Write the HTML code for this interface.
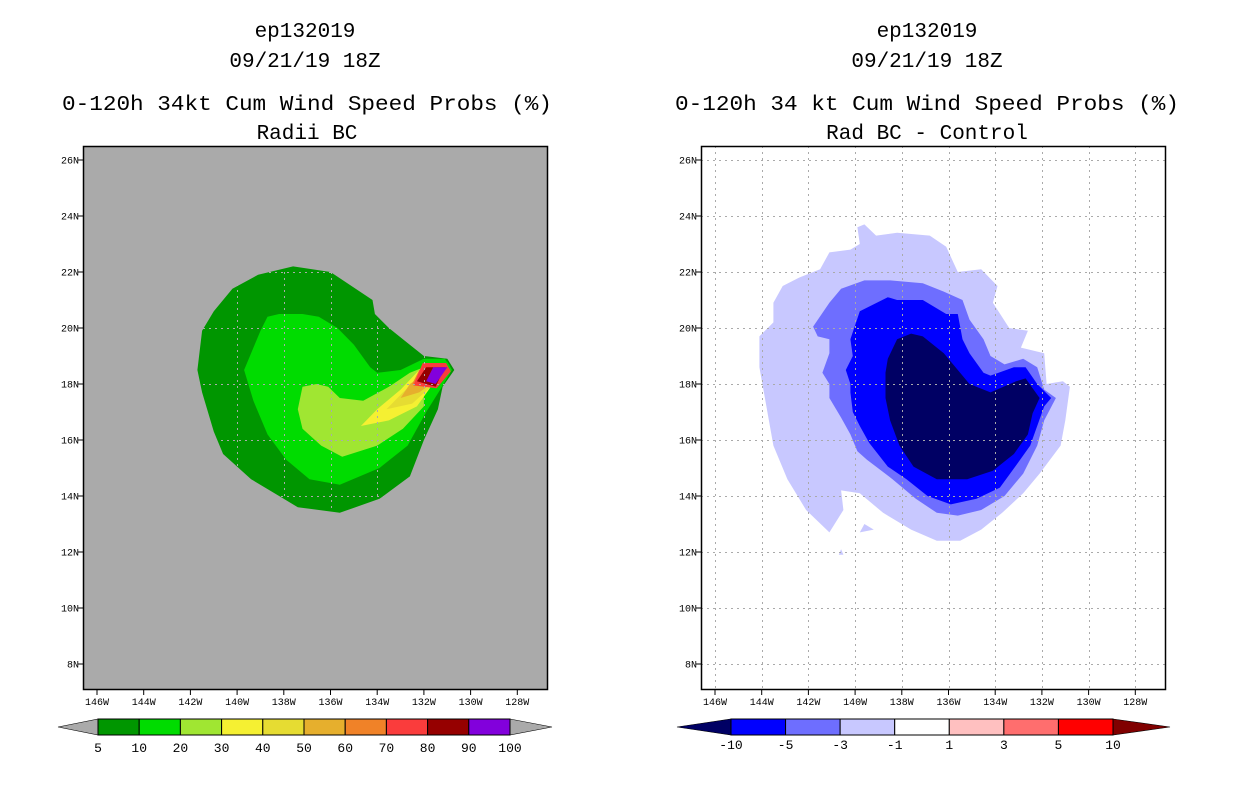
<!DOCTYPE html>
<html><head><meta charset="utf-8"><style>
body{margin:0;background:#fff;}
svg text{font-family:"Liberation Mono","DejaVu Sans Mono",monospace;}
</style></head><body>
<svg id="chart" width="1236" height="800" viewBox="0 0 1236 800" xmlns="http://www.w3.org/2000/svg">
<g font-size="21" text-anchor="middle" fill="#000">
<text x="305" y="37">ep132019</text>
<text x="305" y="67">09/21/19 18Z</text>
<text x="307" y="110" textLength="490" lengthAdjust="spacingAndGlyphs">0-120h 34kt Cum Wind Speed Probs (%)</text>
<text x="307" y="139">Radii BC</text>
</g>
<g font-size="21" text-anchor="middle" fill="#000">
<text x="927" y="37">ep132019</text>
<text x="927" y="67">09/21/19 18Z</text>
<text x="927" y="110" textLength="504" lengthAdjust="spacingAndGlyphs">0-120h 34 kt Cum Wind Speed Probs (%)</text>
<text x="927" y="139">Rad BC - Control</text>
</g>
<defs>
<clipPath id="clipL"><rect x="83" y="146" width="465" height="544"/></clipPath>
<clipPath id="clipR"><rect x="701" y="146" width="465" height="544"/></clipPath>
</defs>
<g id="left"></g>
<g id="right"></g>
<g id="cbars"></g>
</svg>
<script>
const lonTicks=[146,144,142,140,138,136,134,132,130,128];
const latTicks=[26,24,22,20,18,16,14,12,10,8];
const leftLevels=[5,10,20,30,40,50,60,70,80,90];
const leftColors=["#009600","#00dc00","#a0e632","#f5f032","#e6dc32","#e6af2d","#f08228","#fa3c3c","#960000","#8200dc"];
const leftP5=[[137.6,22.2],[136.0,22.0],[134.2,21.0],[134.1,20.5],[133.5,20.0],[132.9,19.6],[132.0,19.0],[131.0,18.9],[130.7,18.5],[131.2,17.9],[131.4,17.1],[132.0,16.0],[132.6,14.7],[133.9,13.9],[135.6,13.4],[137.4,13.6],[138.2,14.0],[139.4,14.6],[140.6,15.5],[141.0,16.3],[141.5,17.7],[141.7,18.5],[141.5,19.9],[141.0,20.6],[140.2,21.4],[139.1,21.9]];
const leftP10=[[138.2,20.5],[137.2,20.5],[136.5,20.4],[135.7,20.0],[135.0,19.4],[134.3,18.6],[134.0,18.4],[133.0,18.5],[132.0,18.9],[131.1,18.9],[130.8,18.5],[131.3,17.8],[131.9,17.0],[132.7,15.8],[133.9,15.0],[135.6,14.4],[136.9,14.6],[137.9,15.3],[138.7,16.2],[139.3,17.4],[139.7,18.5],[139.4,19.1],[139.0,19.9],[138.7,20.4]];
const leftP20=[[137.2,17.9],[136.6,18.0],[136.1,17.9],[135.6,17.5],[134.6,17.4],[133.5,17.9],[132.6,18.4],[132.0,18.6],[132.0,17.2],[132.9,16.4],[134.0,15.8],[135.5,15.4],[136.4,15.8],[137.2,16.4],[137.4,17.1]];
const leftP30=[[134.7,16.5],[134.0,17.1],[133.0,17.8],[132.2,18.5],[131.7,17.9],[132.3,17.2],[133.5,16.7]];
const leftP40=[[133.6,17.1],[132.9,17.7],[132.0,18.4],[131.7,17.9],[132.5,17.3]];
const leftP50=[[133.0,17.5],[132.6,18.0],[131.9,18.4],[131.7,18.0],[132.2,17.7]];
const leftP60=[[132.5,18.0],[132.2,18.5],[131.7,18.5],[132.0,17.9]];
const leftP70=[[132.4,18.0],[132.0,18.8],[131.0,18.8],[130.8,18.5],[131.4,17.9]];
const leftP80=[[132.3,18.1],[131.9,18.6],[131.1,18.6],[131.5,17.9]];
const leftP90=[[131.9,18.1],[131.6,18.6],[131.0,18.6],[131.5,18.0]];
const rightLevels=[-10,-5,-3,-1,1,3,5,10];
const rightColors=["#000064","#0000ff","#6e6eff","#c8c8ff","#ffffff","#ffc0c0","#ff6e6e","#ff0000","#800000"];
const rightM1=[[139.9,23.6],[139.6,23.7],[139.1,23.3],[138.2,23.4],[136.8,23.3],[136.1,22.9],[135.6,22.0],[134.6,22.1],[133.9,21.5],[134.1,20.9],[133.4,20.0],[132.6,19.9],[132.9,19.3],[131.9,19.1],[131.8,18.0],[131.1,18.1],[130.8,17.9],[131.0,16.7],[131.2,15.8],[132.1,14.8],[132.8,14.1],[133.7,13.4],[134.6,12.8],[135.5,12.4],[136.5,12.4],[137.6,12.8],[138.8,13.4],[139.8,14.1],[140.6,14.2],[140.5,13.5],[141.1,12.7],[142.1,13.5],[142.9,14.6],[143.5,15.8],[143.8,17.2],[144.1,18.6],[144.1,19.7],[143.5,20.2],[143.5,20.9],[143.1,21.5],[142.4,21.8],[141.5,22.1],[141.1,22.7],[140.2,22.8],[139.8,23.0]];
const rightM1b=[[139.6,13.0],[139.2,12.8],[139.8,12.7]];
const rightM1c=[[140.6,12.1],[140.7,11.9],[140.5,11.9]];
const rightM3=[[141.8,20.05],[141.1,20.9],[140.6,21.4],[139.6,21.7],[138.5,21.7],[137.1,21.6],[136.2,21.3],[135.4,21.0],[135.1,20.3],[134.5,19.6],[134.2,19.0],[133.6,18.7],[132.8,18.9],[132.2,18.6],[131.9,17.8],[131.4,17.5],[131.9,16.7],[132.2,15.8],[132.8,14.8],[133.6,14.0],[134.6,13.5],[135.6,13.3],[136.5,13.4],[137.4,13.9],[138.4,14.6],[139.5,15.3],[139.9,15.6],[140.2,16.2],[140.6,16.8],[141.1,17.5],[141.1,18.0],[141.4,18.4],[141.1,19.1],[141.1,19.6],[141.6,19.7]];
const rightM5=[[140.2,19.6],[139.8,20.6],[138.6,21.1],[138.2,21.0],[137.1,21.0],[136.1,20.5],[135.6,20.5],[135.4,19.6],[135.1,19.1],[134.5,18.4],[134.2,18.3],[133.2,18.6],[132.7,18.6],[132.2,18.0],[131.6,17.5],[131.9,17.2],[132.2,16.5],[132.5,15.8],[133.1,15.1],[133.8,14.3],[134.8,13.9],[135.9,13.7],[136.9,14.0],[137.8,14.6],[138.6,15.05],[139.4,15.9],[139.8,16.5],[140.1,17.0],[140.2,17.7],[140.2,18.0],[140.4,18.5],[140.1,19.0]];
const rightM10=[[138.6,18.9],[138.2,19.6],[137.6,19.8],[137.1,19.7],[136.2,19.1],[135.6,18.5],[135.1,18.0],[134.2,17.7],[133.1,18.1],[132.7,18.2],[132.1,17.5],[132.4,16.95],[132.6,16.2],[133.2,15.5],[134.1,14.9],[135.2,14.6],[136.5,14.6],[137.5,15.05],[138.1,15.8],[138.5,16.7],[138.7,17.5],[138.7,18.4]];

const NS="http://www.w3.org/2000/svg";
function mk(tag,attrs,parent){const e=document.createElementNS(NS,tag);for(const k in attrs)e.setAttribute(k,attrs[k]);parent.appendChild(e);return e;}
function xS(lon,off){return 97+off+(146-lon)*23.35;}
function yS(lat){return 160+(26-lat)*28;}
function poly(pts,off){return pts.map(p=>xS(p[0],off).toFixed(1)+","+yS(p[1]).toFixed(1)).join(" ");}

function panel(g,off,bg,clip,fills,names){
  const b=mk('rect',{x:83+off,y:146,width:465,height:544,fill:bg},g);
  
  
  const c=mk('g',{'clip-path':'url(#'+clip+')'},g);
  fills.forEach((f,i)=>{
    const p=mk('polygon',{points:poly(f[0],off),fill:f[1]},c);
    
    
  });
  const grid=mk('g',{stroke:'#aaaaaa','stroke-width':1,'stroke-dasharray':'2,4'},c);
  
  
  lonTicks.forEach(l=>{const x=Math.round(xS(l,off))+0.5;mk('line',{x1:x,y1:146,x2:x,y2:690},grid);});
  latTicks.forEach(l=>{const y=Math.round(yS(l))+0.5;mk('line',{x1:83+off,y1:y,x2:548+off,y2:y},grid);});
  const fr=mk('rect',{x:83.5+off,y:146.5,width:464,height:543,fill:'none',stroke:'#000','stroke-width':1.5},g);
  
  
  lonTicks.forEach(l=>{
    const x=xS(l,off);
    mk('line',{x1:x,y1:690,x2:x,y2:695,stroke:'#000'},g);
    const t=mk('text',{x:x,y:705,'font-size':10,'text-anchor':'middle'},g);
    t.textContent=l+'W';
    
    
  });
  latTicks.forEach(l=>{
    const y=yS(l);
    mk('line',{x1:78+off,y1:y,x2:83+off,y2:y,stroke:'#000'},g);
    const t=mk('text',{x:79+off,y:y+3.5,'font-size':10,'text-anchor':'end'},g);
    t.textContent=l+'N';
    
    
  });
}
panel(document.getElementById('left'),0,'#aaaaaa','clipL',
 [[leftP5,leftColors[0]],[leftP10,leftColors[1]],[leftP20,leftColors[2]],[leftP70,'#00dc00'],[leftP30,leftColors[3]],[leftP40,leftColors[4]],[leftP50,leftColors[5]],[leftP60,leftColors[6]],[leftP70.map(p=>[p[0]+0.05,p[1]-0.05]),leftColors[7]],[leftP80,leftColors[8]],[leftP90,leftColors[9]]],
 ['contour-5','contour-10','contour-20','contour-70-edge','contour-30','contour-40','contour-50','contour-60','contour-70','contour-80','contour-90']);
panel(document.getElementById('right'),618,'#ffffff','clipR',
 [[rightM1,rightColors[3]],[rightM1b,rightColors[3]],[rightM1c,rightColors[3]],[rightM3,rightColors[2]],[rightM5,rightColors[1]],[rightM10,rightColors[0]]],
 ['contour-minus1','contour-minus1-b','contour-minus1-c','contour-minus3','contour-minus5','contour-minus10']);

const cb=document.getElementById('cbars');
(function(){
  const x0=98,x1=510,w=(x1-x0)/leftColors.length;
  const lt=mk('polygon',{points:'58,727 98,719 98,735',fill:'#aaaaaa',stroke:'#000','stroke-width':0.6},cb);
  
  
  const rt=mk('polygon',{points:'510,719 552,727 510,735',fill:'#aaaaaa',stroke:'#000','stroke-width':0.6},cb);
  
  
  leftColors.forEach((c,i)=>{
    const r=mk('rect',{x:x0+i*w,y:719,width:w,height:16,fill:c,stroke:'#000','stroke-width':1},cb);
    
    
  });
  leftLevels.concat([100]).forEach((v,i)=>{
    const t=mk('text',{x:x0+i*w,y:752,'font-size':13,'text-anchor':'middle'},cb);
    t.textContent=v;
    
    
  });
})();
(function(){
  const x0=731,x1=1113,w=(x1-x0)/7;
  const lt=mk('polygon',{points:'677,727 731,719 731,735',fill:rightColors[0],stroke:'#000','stroke-width':0.6},cb);
  
  
  const rt=mk('polygon',{points:'1113,719 1170,727 1113,735',fill:rightColors[8],stroke:'#000','stroke-width':0.6},cb);
  
  
  for(let i=0;i<7;i++){
    const r=mk('rect',{x:x0+i*w,y:719,width:w,height:16,fill:rightColors[i+1],stroke:'#000','stroke-width':1},cb);
    
    
  }
  rightLevels.forEach((v,i)=>{
    const t=mk('text',{x:x0+i*w,y:749,'font-size':13,'text-anchor':'middle'},cb);
    t.textContent=v;
    
    
  });
})();
</script>
</body></html>
